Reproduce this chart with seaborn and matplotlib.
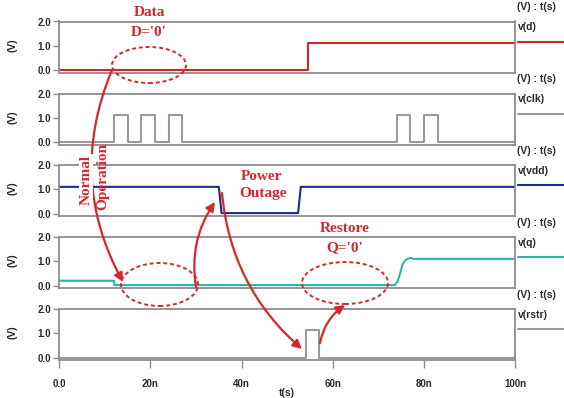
import matplotlib
matplotlib.use("Agg")
import matplotlib.pyplot as plt
from matplotlib.patches import Ellipse, FancyArrowPatch
from matplotlib.lines import Line2D
import seaborn as sns

sns.set_style("white")
plt.rcParams["font.family"] = ["Liberation Sans", "DejaVu Sans"]

# ---- signal data (time in ns, voltage in V) ----
d_t = [0, 54.6, 100]
d_v = [0.0, 1.1, 1.1]

clk_t = [0, 12, 15, 18, 21, 24, 27, 74, 77, 80, 83, 100]
clk_v = [0.0, 1.1, 0.0, 1.1, 0.0, 1.1, 0.0, 1.1, 0.0, 1.1, 0.0, 0.0]

vdd_t = [0, 35.0, 35.6, 52.4, 53.0, 100]
vdd_v = [1.1, 1.1, 0.02, 0.02, 1.1, 1.1]

q_t = [0, 12.0, 12.1, 73.6, 74.2, 74.8, 75.3, 75.8, 76.4, 77.2, 77.6, 100]
q_v = [0.2, 0.2, 0.02, 0.02, 0.15, 0.5, 0.85, 1.02, 1.1, 1.14, 1.1, 1.1]

rstr_t = [0, 54.1, 57.0, 100]
rstr_v = [0.0, 1.12, 0.0, 0.0]

signal_names = ["v(d)", "v(clk)", "v(vdd)", "v(q)", "v(rstr)"]
signal_colors = ["#cc2a2a", "#9a9a9a", "#1f2a8f", "#2bb3ad", "#9a9a9a"]
signal_steps = [True, True, False, False, True]
signals = [(d_t, d_v), (clk_t, clk_v), (vdd_t, vdd_v), (q_t, q_v), (rstr_t, rstr_v)]

y_ticks = [0.0, 1.0, 2.0]
y_tick_labels = ["0.0", "1.0", "2.0"]
x_ticks = [0, 20, 40, 60, 80, 100]
x_tick_labels = ["0.0", "20n", "40n", "60n", "80n", "100n"]

# ---- figure layout in pixels ----
W, H = 564, 398
fig = plt.figure(figsize=(W / 100, H / 100), dpi=100)


def fx(px):
    return px / W


def fy(py):
    return 1 - py / H


AX_L, AX_R = 59.3, 515.0
PANEL_H = 51.0
panel_tops = [21.5, 93.5, 165.0, 237.0, 309.0]
frame_col = "#8c8c8c"
text_col = "#2a2a2a"
red = "#d8262a"

axes = []
for i, ((t, v), name, col, stp, top) in enumerate(
        zip(signals, signal_names, signal_colors, signal_steps, panel_tops)):
    ax = fig.add_axes([fx(AX_L), fy(top + PANEL_H), (AX_R - AX_L) / W, PANEL_H / H])
    sns.lineplot(x=t, y=v, ax=ax, color=col, lw=1.5, estimator=None, sort=False,
                 drawstyle="steps-post" if stp else "default")
    ax.set_xlim(0, 100)
    ax.set_ylim(-0.1, 2.0)
    ax.set_yticks(y_ticks)
    ax.set_yticklabels(y_tick_labels)
    ax.tick_params(axis="y", direction="out", length=4, width=1, color=frame_col,
                   labelsize=7, labelcolor=text_col, pad=2, left=True)
    for s in ax.spines.values():
        s.set_color(frame_col)
        s.set_linewidth(1.3)
    if i < 4:
        ax.set_xticks([])
    else:
        ax.set_xticks(x_ticks)
        ax.set_xticklabels(x_tick_labels)
        ax.tick_params(axis="x", direction="out", length=6, width=1, color=frame_col,
                       labelsize=7, labelcolor=text_col, pad=8, bottom=True)
    ax.set_xlabel("")
    ax.set_ylabel("")
    for lab in ax.get_yticklabels() + ax.get_xticklabels():
        lab.set_fontweight("bold")
    # axis unit label on the left
    fig.text(fx(13), fy(top + PANEL_H / 2 - 2), "(V)", rotation=90, ha="center", va="center",
             fontsize=7.5, fontweight="bold", color=text_col)
    # trace legend on the right
    fig.text(fx(517), fy(top - 14), "(V) : t(s)", ha="left", va="center",
             fontsize=7.5, fontweight="bold", color=text_col)
    fig.text(fx(518), fy(top + 6), name, ha="left", va="center",
             fontsize=7.5, fontweight="bold", color=text_col)
    fig.add_artist(Line2D([fx(518), fx(564)], [fy(top + 20), fy(top + 20)],
                          color=col, lw=1.5, transform=fig.transFigure))
    axes.append(ax)

fig.text(fx(287), fy(393), "t(s)", ha="center", va="center", fontsize=7.5,
         fontweight="bold", color=text_col)

# ---- annotations ----
serif = ["Liberation Serif", "DejaVu Serif"]


def note(px, py, s, rot=0, box=False):
    kw = dict(ha="center", va="center", fontsize=11, fontweight="bold", color=red,
              family=serif, rotation=rot)
    if box:
        kw["bbox"] = dict(facecolor="white", edgecolor="none", pad=0.3)
    fig.text(fx(px), fy(py), s, **kw)


def ring(cx, cy, w, h):
    fig.add_artist(Ellipse((fx(cx), fy(cy)), w / W, h / H, transform=fig.transFigure,
                           fill=False, edgecolor=red, lw=1.4, linestyle=(0, (2, 1.5))))


def arrow(p0, p1, rad):
    fig.add_artist(FancyArrowPatch((fx(p0[0]), fy(p0[1])), (fx(p1[0]), fy(p1[1])),
                                   transform=fig.transFigure, arrowstyle="-|>",
                                   mutation_scale=13, lw=1.6, color=red,
                                   connectionstyle=f"arc3,rad={rad}", shrinkA=0, shrinkB=0))


note(149, 12, "Data")
note(149, 32, "D='0'")
note(86, 180, "Normal", rot=90, box=True)
note(103, 177, "Operation", rot=90)
note(262, 176, "Power")
note(263, 194, "Outage")
note(345, 229, "Restore")
note(345, 248, "Q='0'")

ring(149, 65, 74, 36)
ring(159.5, 284.5, 77, 43)
ring(345, 283, 86, 42)

arrow((112, 70), (123, 282), 0.24)
arrow((196, 287), (215, 202), -0.2)
arrow((222, 193), (302, 349), 0.2)
arrow((320, 343), (345, 305), -0.2)

fig.savefig("out.png", dpi=100, facecolor="white")
